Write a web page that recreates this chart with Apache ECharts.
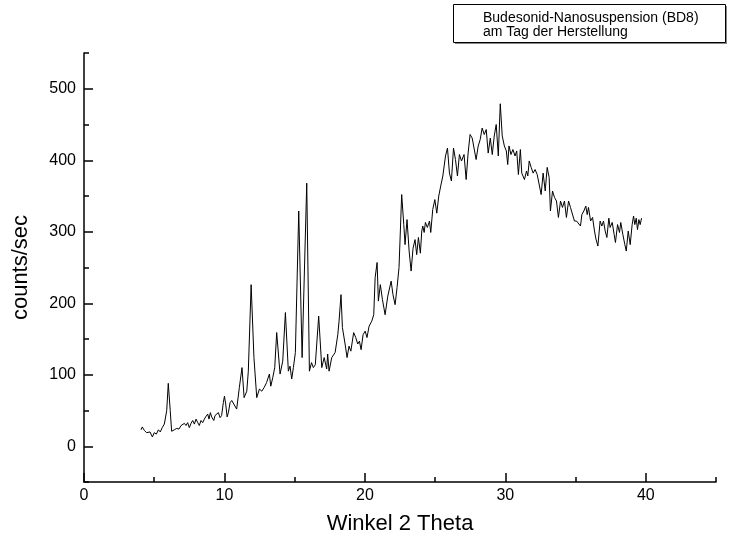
<!DOCTYPE html>
<html>
<head>
<meta charset="utf-8">
<script src="https://cdn.jsdelivr.net/npm/echarts@6/dist/echarts.min.js"></script>
<style>
html,body{margin:0;padding:0;background:#fff;}
#chart{width:744px;height:544px;}
</style>
</head>
<body>
<div id="chart"></div>
<script>
// 2-theta positions (degrees)
var twoTheta = [
4.06,4.15,4.3,4.46,4.57,4.7,4.87,5.0,5.15,5.3,5.43,5.57,5.72,5.89,6.0,6.14,6.24,6.43,6.6,6.76,
6.91,7.03,7.15,7.26,7.38,7.5,7.62,7.74,7.86,7.98,8.1,8.21,8.33,8.45,8.57,8.66,8.81,8.9,9.0,9.09,
9.24,9.33,9.45,9.57,9.69,9.8,9.92,10.0,10.09,10.19,10.28,10.4,10.52,10.66,10.87,11.06,11.25,11.4,11.59,11.7,
11.9,12.1,12.3,12.49,12.66,12.82,13.0,13.2,13.3,13.44,13.58,13.72,13.96,14.15,14.34,14.55,14.67,14.79,14.91,15.05,
15.29,15.53,15.86,16.05,16.2,16.33,16.47,16.71,16.93,17.1,17.28,17.35,17.45,17.64,17.88,18.07,18.16,18.3,18.4,18.5,
18.59,18.73,18.87,19.0,19.2,19.35,19.49,19.61,19.73,19.87,20.02,20.15,20.3,20.49,20.63,20.73,20.87,20.96,21.1,21.25,
21.44,21.63,21.87,22.0,22.15,22.29,22.43,22.62,22.77,22.86,23.0,23.15,23.29,23.43,23.57,23.69,23.81,23.95,24.05,24.12,
24.22,24.31,24.45,24.6,24.69,24.83,24.98,25.12,25.26,25.4,25.55,25.74,25.88,26.02,26.16,26.31,26.45,26.59,26.73,26.88,
27.06,27.21,27.35,27.49,27.64,27.78,27.92,28.07,28.21,28.35,28.5,28.64,28.78,28.93,29.07,29.21,29.35,29.5,29.64,29.78,
29.93,30.07,30.17,30.26,30.4,30.54,30.69,30.81,30.93,31.07,31.17,31.36,31.51,31.6,31.7,31.84,31.98,32.12,32.27,32.41,
32.55,32.69,32.84,32.98,33.12,33.21,33.36,33.5,33.64,33.78,33.93,34.07,34.21,34.35,34.5,34.64,34.78,34.92,35.07,35.21,
35.35,35.45,35.59,35.73,35.83,35.92,36.07,36.21,36.35,36.45,36.59,36.75,36.87,36.99,37.11,37.23,37.37,37.46,37.61,37.75,
37.84,37.99,38.13,38.22,38.37,38.51,38.61,38.75,38.89,39.03,39.13,39.22,39.32,39.41,39.51,39.6,39.7
];
// counts per second
var counts = [
23,27,22,19,17,20,13,19,17,23,20,26,31,50,88,50,21,23,25,24,
29,27,32,29,33,26,32,36,31,38,33,29,36,33,38,41,45,38,47,41,
36,43,41,47,40,43,61,70,59,41,47,61,64,66,52,82,110,68,77,105,
226,124,68,80,77,82,89,101,84,96,110,159,101,119,187,105,112,94,110,131,
329,124,368,105,117,110,114,182,110,124,108,129,105,124,131,156,175,212,166,168,
143,124,140,133,159,152,143,147,135,156,161,152,168,175,184,236,257,203,226,205,
184,210,231,212,198,222,250,352,310,282,317,273,245,277,289,268,292,270,301,308,
299,313,306,315,299,331,345,326,350,364,378,406,417,382,371,417,401,378,408,399,
408,373,410,436,431,429,401,420,429,445,436,443,410,431,408,434,450,406,479,434,
420,413,394,420,408,415,406,413,380,415,382,373,385,378,399,390,382,387,380,382,
352,382,357,390,376,329,357,348,343,320,343,334,343,320,343,334,334,315,315,313,
308,324,329,336,324,334,315,320,301,290,280,315,308,315,301,292,319,306,313,296,
285,310,299,313,296,282,273,301,282,310,322,310,319,303,317,310,319
];
var xMajorTicks = [0, 10, 20, 30, 40];
var xMinorTicks = [5, 15, 25, 35, 45];
var yMajorTicks = [0, 100, 200, 300, 400, 500];
var yMinorTicks = [-50, 50, 150, 250, 350, 450, 550];
var xTitle = 'Winkel 2 Theta';
var yTitle = 'counts/sec';
var legendLines = ['Budesonid-Nanosuspension (BD8)', 'am Tag der Herstellung'];

var seriesData = twoTheta.map(function (t, i) { return [t, counts[i]]; });
var FONT = '"Liberation Sans", Arial, sans-serif';
var axisCol = '#000';

var chart = echarts.init(document.getElementById('chart'), null, {renderer: 'canvas'});
chart.setOption({
  animation: false,
  backgroundColor: '#fff',
  grid: {left: 84, right: 28, top: 53, bottom: 62, containLabel: false},
  xAxis: [{
    type: 'value', min: 0, max: 45,
    name: xTitle, nameLocation: 'middle', nameGap: 31,
    nameTextStyle: {fontFamily: FONT, fontSize: 22, color: '#000'},
    axisLine: {show: true, onZero: false, lineStyle: {color: axisCol, width: 1.5}},
    axisTick: {show: true, inside: true, length: 9, customValues: xMajorTicks, lineStyle: {color: axisCol, width: 1.5}},
    axisLabel: {customValues: xMajorTicks, fontFamily: FONT, fontSize: 16, color: '#000', margin: 6},
    splitLine: {show: false}
  }, {
    type: 'value', min: 0, max: 45, position: 'bottom',
    axisLine: {show: false, onZero: false},
    axisTick: {show: true, inside: true, length: 5, customValues: xMinorTicks, lineStyle: {color: axisCol, width: 1.5}},
    axisLabel: {show: false},
    splitLine: {show: false}
  }],
  yAxis: [{
    type: 'value', min: -50, max: 550,
    name: yTitle, nameLocation: 'middle', nameGap: 52, nameRotate: 90,
    nameTextStyle: {fontFamily: FONT, fontSize: 22, color: '#000'},
    axisLine: {show: true, onZero: false, lineStyle: {color: axisCol, width: 1.5}},
    axisTick: {show: true, inside: true, length: 9, customValues: yMajorTicks, lineStyle: {color: axisCol, width: 1.5}},
    axisLabel: {customValues: yMajorTicks, fontFamily: FONT, fontSize: 16, color: '#000', margin: 8},
    splitLine: {show: false}
  }, {
    type: 'value', min: -50, max: 550, position: 'left',
    axisLine: {show: false, onZero: false},
    axisTick: {show: true, inside: true, length: 5, customValues: yMinorTicks, lineStyle: {color: axisCol, width: 1.5}},
    axisLabel: {show: false},
    splitLine: {show: false}
  }],
  series: [{
    type: 'line',
    xAxisIndex: 0, yAxisIndex: 0,
    data: seriesData,
    showSymbol: false,
    symbol: 'none',
    lineStyle: {color: '#000', width: 1},
    silent: true
  }],
  graphic: [
    {type: 'rect', left: 455, top: 6, shape: {width: 272, height: 38}, style: {fill: '#888'}, z: 10},
    {type: 'rect', left: 453, top: 4, shape: {width: 272, height: 38}, style: {fill: '#fff', stroke: '#000', lineWidth: 1}, z: 11},
    {type: 'text', left: 483, top: 11, style: {text: legendLines[0], font: '14px ' + FONT, fill: '#000'}, z: 12},
    {type: 'text', left: 483, top: 25, style: {text: legendLines[1], font: '14px ' + FONT, fill: '#000'}, z: 12}
  ]
});
</script>
</body>
</html>
